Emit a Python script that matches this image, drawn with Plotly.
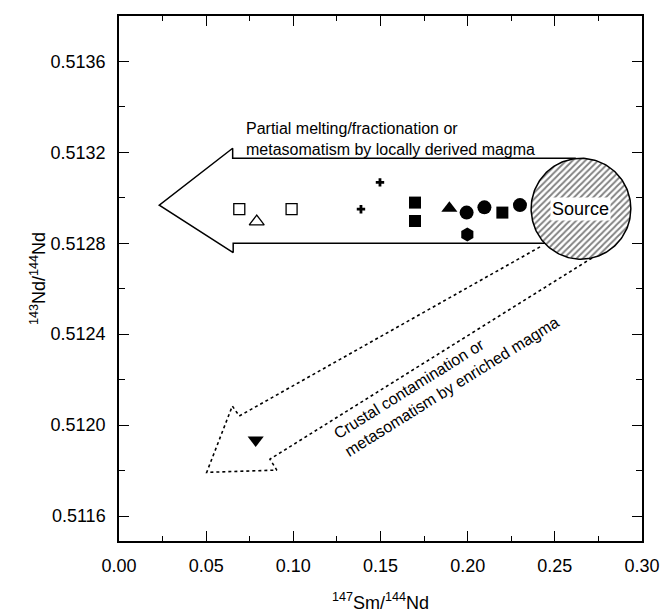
import numpy as np
import plotly.graph_objects as go

# ---- data (147Sm/144Nd, 143Nd/144Nd) ----
open_sq_x = [0.069, 0.099]
open_sq_y = [0.51295, 0.51295]
open_tri_x = [0.079]
open_tri_y = [0.512895]
plus_x = [0.1388, 0.1497]
plus_y = [0.51295, 0.513068]
fill_sq_x = [0.1698, 0.1698, 0.2199]
fill_sq_y = [0.512979, 0.512898, 0.512935]
fill_tri_x = [0.1895]
fill_tri_y = [0.512954]
circ_x = [0.1994, 0.2096, 0.2300]
circ_y = [0.512935, 0.512958, 0.512968]
hex_x = [0.1998]
hex_y = [0.512839]
down_tri_x = [0.0784]
down_tri_y = [0.511934]

# source field (ellipse in data units)
src_cx, src_cy = 0.2650, 0.512952
src_rx, src_ry = 0.0286, 0.000222

# arrows (annotation outlines)
big_arrow_x = [0.2620, 0.0652, 0.0652, 0.0231, 0.0655, 0.0655, 0.265]
big_arrow_y = [0.513174, 0.513174, 0.513218, 0.512968, 0.512759, 0.512800, 0.512800]
dot_arrow_x = [0.2415, 0.0690, 0.0650, 0.0503, 0.0905, 0.0866, 0.2740]
dot_arrow_y = [0.512784, 0.512040, 0.512084, 0.511792, 0.511802, 0.511850, 0.512748]

x_ticks = [0.00, 0.05, 0.10, 0.15, 0.20, 0.25, 0.30]
y_ticks = [0.5116, 0.5120, 0.5124, 0.5128, 0.5132, 0.5136]

FONT = "Liberation Sans, Arial, Helvetica, sans-serif"

fig = go.Figure()

fig.add_trace(go.Scatter(x=big_arrow_x, y=big_arrow_y, mode="lines",
                         line=dict(color="black", width=1.5), hoverinfo="skip"))
fig.add_trace(go.Scatter(x=dot_arrow_x, y=dot_arrow_y, mode="lines",
                         line=dict(color="black", width=1.6, dash="dot"), hoverinfo="skip"))

t = np.linspace(0, 2 * np.pi, 200)
fig.add_trace(go.Scatter(x=src_cx + src_rx * np.cos(t), y=src_cy + src_ry * np.sin(t),
                         mode="lines", fill="toself", fillcolor="white",
                         fillpattern=dict(shape="/", fgcolor="black", bgcolor="white",
                                          size=4.5, solidity=0.4),
                         line=dict(color="black", width=1.5), hoverinfo="skip"))

def add_markers(xs, ys, symbol, size, lw=1.3):
    fig.add_trace(go.Scatter(x=xs, y=ys, mode="markers",
                             marker=dict(symbol=symbol, size=size, color="black",
                                         line=dict(color="black", width=lw))))

add_markers(open_sq_x, open_sq_y, "square-open", 11)
add_markers(open_tri_x, open_tri_y, "triangle-up-open", 13)
add_markers(plus_x, plus_y, "cross", 7, 0)
add_markers(fill_sq_x, fill_sq_y, "square", 12, 0)
add_markers(fill_tri_x, fill_tri_y, "triangle-up", 14, 0)
add_markers(circ_x, circ_y, "circle", 14, 0)
add_markers(hex_x, hex_y, "hexagon", 14, 0)
add_markers(down_tri_x, down_tri_y, "triangle-down", 14, 0)

fig.add_annotation(x=0.0717, y=0.513259, xref="x", yref="y",
                   text="Partial melting/fractionation or<br>metasomatism by locally derived magma",
                   showarrow=False, xanchor="left", yanchor="middle", align="left",
                   font=dict(family=FONT, size=16, color="black"))
fig.add_annotation(x=0.1876, y=0.512207, xref="x", yref="y",
                   text="Crustal contamination or<br>metasomatism by enriched magma",
                   showarrow=False, textangle=-32, align="left",
                   font=dict(family=FONT, size=16, color="black"))
fig.add_annotation(x=src_cx, y=src_cy, xref="x", yref="y", text="Source",
                   showarrow=False, bgcolor="white", borderpad=1,
                   font=dict(family=FONT, size=18, color="black"))

axis_common = dict(showline=True, linecolor="black", linewidth=1.5, mirror="allticks",
                   ticks="inside", ticklen=10, tickwidth=1.3, tickcolor="black",
                   showgrid=False, zeroline=False,
                   tickfont=dict(family=FONT, size=18, color="black"))

fig.update_xaxes(range=[0, 0.30], tickvals=x_ticks, ticktext=[f"{v:.2f}" for v in x_ticks],
                 minor=dict(dtick=0.025, tick0=0, ticks="inside", ticklen=5, tickcolor="black", tickwidth=1.2),
                 title=dict(text="<sup>147</sup>Sm/<sup>144</sup>Nd", standoff=21,
                            font=dict(family=FONT, size=18, color="black")),
                 ticklabelstandoff=8, **axis_common)
fig.update_yaxes(range=[0.51149, 0.51380], tickvals=y_ticks, ticktext=[f"{v:.4f}" for v in y_ticks],
                 minor=dict(dtick=0.0002, tick0=0.5116, ticks="inside", ticklen=6, tickcolor="black", tickwidth=1.2),
                 title=dict(text="<sup>143</sup>Nd/<sup>144</sup>Nd", standoff=0,
                            font=dict(family=FONT, size=18, color="black")),
                 ticklabelstandoff=8, **axis_common)

fig.update_layout(width=661, height=614, margin=dict(l=119, r=19, t=16, b=73, autoexpand=False),
                  paper_bgcolor="white", plot_bgcolor="white", showlegend=False,
                  font=dict(family=FONT, color="black"))

fig.write_html("out.html")
